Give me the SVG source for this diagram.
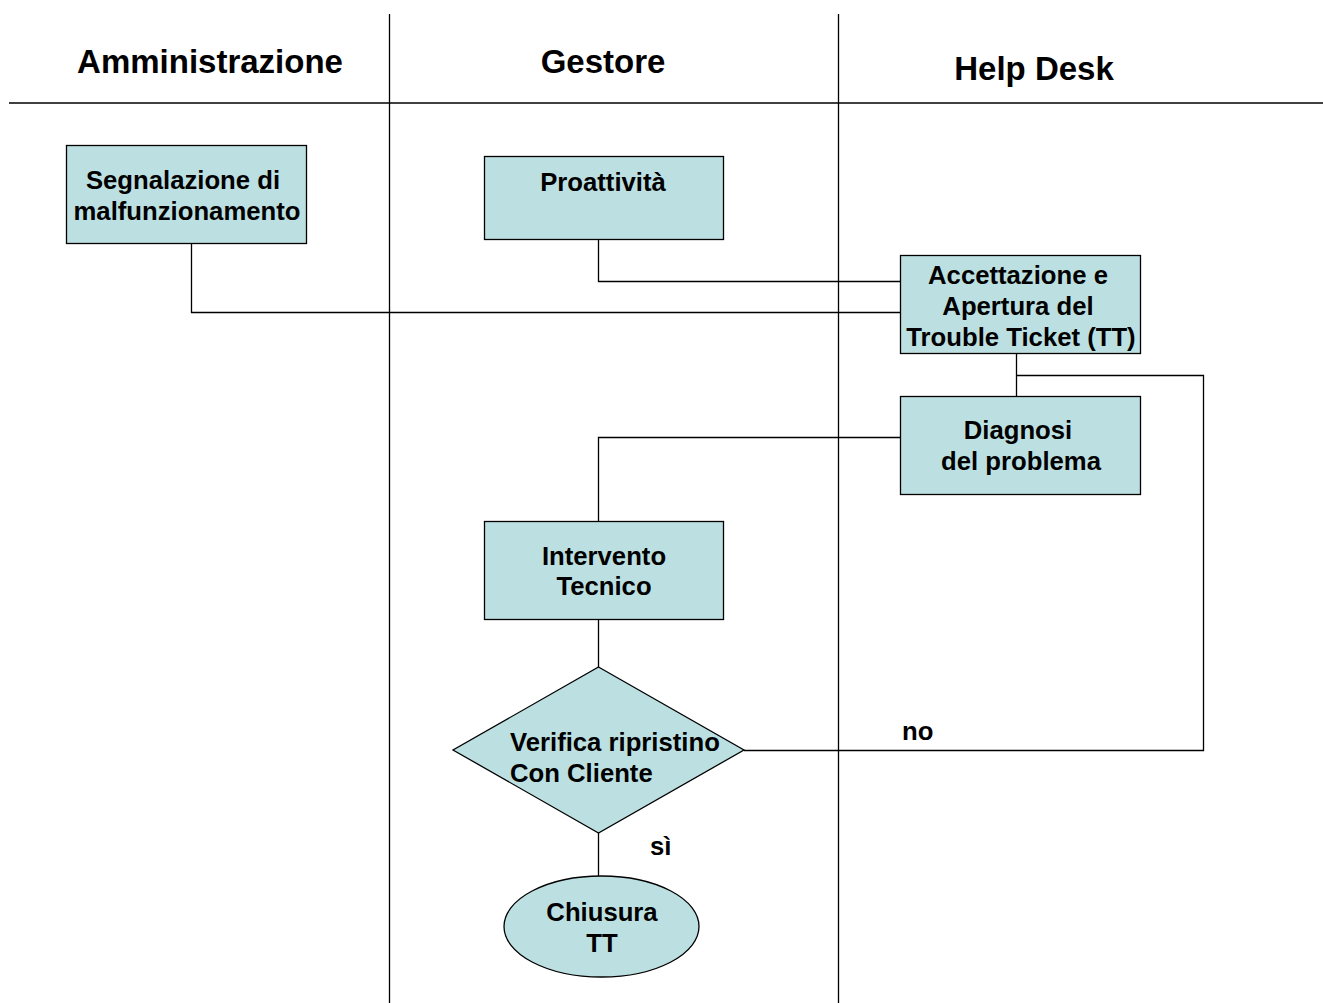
<svg xmlns="http://www.w3.org/2000/svg" width="1323" height="1003" viewBox="0 0 1323 1003">
<style>
.lane{stroke:#000;stroke-width:1.3;fill:none}
.hdr{font-family:"Liberation Sans",Arial,sans-serif;font-weight:bold;font-size:33px;fill:#000;text-anchor:middle}
.box{fill:#BCE0E1;stroke:#000;stroke-width:1.3}
.t{font-family:"Liberation Sans",Arial,sans-serif;font-weight:bold;font-size:25.7px;fill:#000;text-anchor:middle}
.tl{font-family:"Liberation Sans",Arial,sans-serif;font-weight:bold;font-size:25.7px;fill:#000}
.c{stroke:#000;stroke-width:1.3;fill:none}
</style>
<rect width="1323" height="1003" fill="#fff"/>
<g id="lanes">
<line class="lane" x1="9" y1="103" x2="1323" y2="103" stroke-width="1.6"/>
<line class="lane" x1="389.5" y1="14" x2="389.5" y2="1003"/>
<line class="lane" x1="838.5" y1="14" x2="838.5" y2="1003"/>
<text class="hdr" x="210" y="73">Amministrazione</text>
<text class="hdr" x="603" y="73">Gestore</text>
<text class="hdr" x="1034" y="80">Help Desk</text>
</g>
<g id="connectors">
<polyline class="c" points="598.5,239 598.5,281.5 900,281.5"/>
<polyline class="c" points="191.5,243 191.5,312.5 900,312.5"/>
<line class="c" x1="1016.5" y1="353" x2="1016.5" y2="396"/>
<polyline class="c" points="1016.5,375.5 1203.5,375.5 1203.5,750.5 744,750.5"/>
<polyline class="c" points="900,437.5 598.5,437.5 598.5,521"/>
<line class="c" x1="598.5" y1="619" x2="598.5" y2="667"/>
<line class="c" x1="598.5" y1="833" x2="598.5" y2="876"/>
<text class="tl" x="902" y="740">no</text>
<text class="tl" x="650" y="855">sì</text>
</g>
<g id="segnalazione">
<rect class="box" x="66.5" y="145.5" width="240" height="98"/>
<text class="t" x="183" y="189">Segnalazione di</text>
<text class="t" x="187" y="220">malfunzionamento</text>
</g>
<g id="proattivita">
<rect class="box" x="484.5" y="156.5" width="239" height="83"/>
<text class="t" x="603" y="191">Proattività</text>
</g>
<g id="accettazione">
<rect class="box" x="900.5" y="255.5" width="240" height="98"/>
<text class="t" x="1018" y="284">Accettazione e</text>
<text class="t" x="1018" y="315">Apertura del</text>
<text class="t" x="1021" y="346">Trouble Ticket (TT)</text>
</g>
<g id="diagnosi">
<rect class="box" x="900.5" y="396.5" width="240" height="98"/>
<text class="t" x="1018" y="439">Diagnosi</text>
<text class="t" x="1021" y="470">del problema</text>
</g>
<g id="intervento">
<rect class="box" x="484.5" y="521.5" width="239" height="98"/>
<text class="t" x="604" y="565">Intervento</text>
<text class="t" x="604" y="595">Tecnico</text>
</g>
<g id="verifica">
<polygon class="box" points="598.5,667 744,750 598.5,833 453,750"/>
<text class="tl" x="510" y="751">Verifica ripristino</text>
<text class="tl" x="510" y="782">Con Cliente</text>
</g>
<g id="chiusura">
<ellipse class="box" cx="601.5" cy="926.5" rx="97.5" ry="50.5"/>
<text class="t" x="602" y="921">Chiusura</text>
<text class="t" x="602" y="952">TT</text>
</g>
</svg>
